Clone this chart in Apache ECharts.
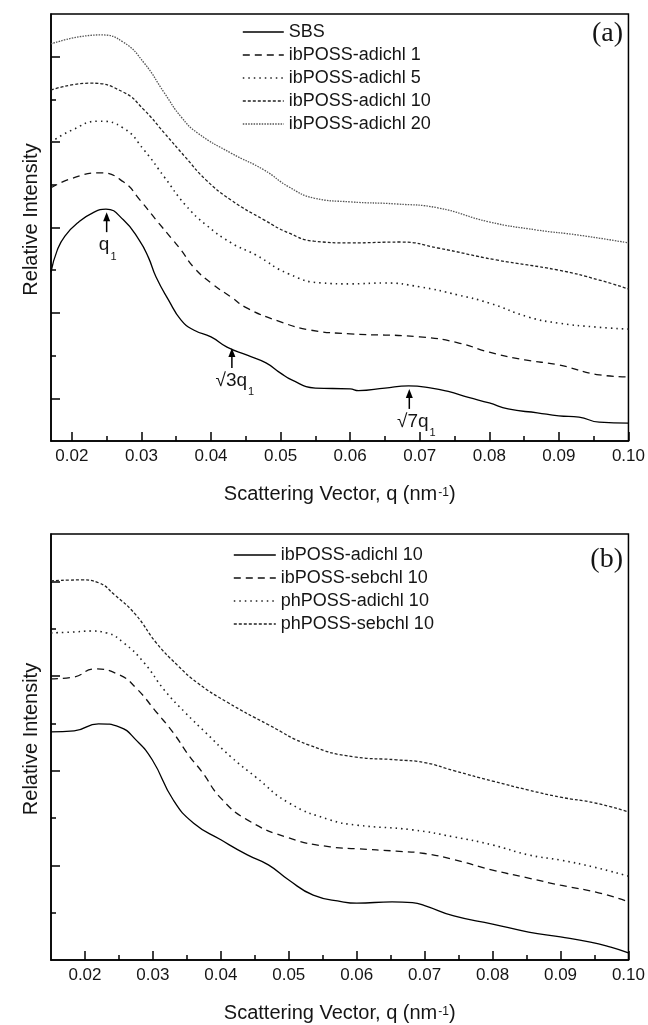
<!DOCTYPE html>
<html><head><meta charset="utf-8">
<script src="https://cdn.jsdelivr.net/npm/echarts@6/dist/echarts.min.js"></script>
<style>html,body{margin:0;padding:0;background:#fff}#c{width:648px;height:1025px}</style>
</head><body><div id="c"></div><script>
// ---------- data (relative intensity, arbitrary units) ----------
const xMajor = [0.02,0.03,0.04,0.05,0.06,0.07,0.08,0.09,0.10];
const xMinor = [0.025,0.035,0.045,0.055,0.065,0.075,0.085,0.095];
const yMajorA = [1,3,5,7,9];
const yMinorA = [2,4,6,8];
const yMajorB = [2,4,6,8];
const yMinorB = [1,3,5,7];

const namesA = ['SBS','ibPOSS-adichl 1','ibPOSS-adichl 5','ibPOSS-adichl 10','ibPOSS-adichl 20'];
const namesB = ['ibPOSS-adichl 10','ibPOSS-sebchl 10','phPOSS-adichl 10','phPOSS-sebchl 10'];

const sbsA = [[0.0170,3.96],[0.0179,4.47],[0.0190,4.80],[0.0210,5.13],[0.0232,5.36],[0.0249,5.43],[0.0274,5.18],[0.0297,4.70],[0.0310,4.30],[0.0321,3.84],[0.0339,3.30],[0.0357,2.83],[0.0375,2.60],[0.0400,2.44],[0.0423,2.20],[0.0452,2.01],[0.0479,1.83],[0.0500,1.59],[0.0516,1.43],[0.0550,1.24],[0.0600,1.22],[0.0612,1.18],[0.0650,1.24],[0.0684,1.29],[0.0717,1.24],[0.0741,1.16],[0.0770,1.02],[0.0800,0.89],[0.0827,0.75],[0.0869,0.66],[0.0900,0.59],[0.0929,0.56],[0.0958,0.44],[0.1000,0.42]];
const adi1A = [[0.0170,5.93],[0.0200,6.15],[0.0241,6.28],[0.0274,6.07],[0.0298,5.64],[0.0321,5.18],[0.0345,4.71],[0.0357,4.47],[0.0375,4.07],[0.0400,3.70],[0.0429,3.37],[0.0452,3.11],[0.0500,2.79],[0.0542,2.60],[0.0600,2.51],[0.0700,2.44],[0.0755,2.30],[0.0800,2.08],[0.0851,1.90],[0.0900,1.78],[0.0958,1.55],[0.1000,1.50]];
const adi5A = [[0.0170,7.00],[0.0200,7.28],[0.0238,7.49],[0.0274,7.33],[0.0304,6.81],[0.0333,6.18],[0.0363,5.53],[0.0393,5.06],[0.0429,4.64],[0.0464,4.36],[0.0512,3.91],[0.0560,3.70],[0.0600,3.68],[0.0649,3.70],[0.0700,3.61],[0.0755,3.42],[0.0800,3.23],[0.0857,2.90],[0.0900,2.76],[0.0952,2.67],[0.1000,2.62]];
const adi10A = [[0.0170,8.22],[0.0226,8.38],[0.0274,8.17],[0.0304,7.75],[0.0333,7.21],[0.0363,6.65],[0.0393,6.11],[0.0429,5.64],[0.0476,5.18],[0.0512,4.87],[0.0548,4.68],[0.0600,4.64],[0.0673,4.66],[0.0726,4.52],[0.0810,4.24],[0.0900,4.00],[0.0958,3.77],[0.1000,3.56]];
const adi20A = [[0.0170,9.30],[0.0241,9.51],[0.0274,9.34],[0.0304,8.85],[0.0333,8.15],[0.0357,7.59],[0.0381,7.21],[0.0429,6.74],[0.0476,6.35],[0.0512,5.95],[0.0548,5.69],[0.0600,5.60],[0.0667,5.55],[0.0726,5.46],[0.0800,5.13],[0.0869,4.94],[0.0929,4.82],[0.1000,4.64]];

const adi10B = [[0.0150,4.82],[0.0184,4.84],[0.0220,4.99],[0.0251,4.92],[0.0275,4.65],[0.0299,4.23],[0.0330,3.38],[0.0360,2.89],[0.0400,2.54],[0.0439,2.22],[0.0470,2.01],[0.0500,1.69],[0.0536,1.37],[0.0579,1.23],[0.0600,1.20],[0.0652,1.23],[0.0682,1.21],[0.0700,1.15],[0.0743,0.93],[0.0800,0.76],[0.0853,0.59],[0.0900,0.49],[0.0944,0.38],[0.0974,0.27],[0.1000,0.15]];
const seb10B = [[0.0150,5.94],[0.0184,5.98],[0.0214,6.15],[0.0251,6.02],[0.0275,5.75],[0.0305,5.24],[0.0330,4.80],[0.0354,4.30],[0.0372,3.98],[0.0400,3.42],[0.0439,2.96],[0.0500,2.58],[0.0561,2.39],[0.0600,2.35],[0.0658,2.30],[0.0700,2.25],[0.0743,2.12],[0.0800,1.90],[0.0853,1.73],[0.0900,1.58],[0.0956,1.42],[0.1000,1.23]];
const phAdiB = [[0.0150,6.91],[0.0184,6.93],[0.0208,6.95],[0.0232,6.91],[0.0257,6.70],[0.0287,6.28],[0.0317,5.70],[0.0348,5.22],[0.0378,4.80],[0.0415,4.29],[0.0451,3.87],[0.0500,3.32],[0.0561,2.96],[0.0600,2.85],[0.0682,2.75],[0.0743,2.60],[0.0800,2.43],[0.0853,2.22],[0.0900,2.11],[0.0950,1.96],[0.1000,1.77]];
const phSebB = [[0.0150,8.01],[0.0196,8.03],[0.0220,7.97],[0.0244,7.71],[0.0275,7.29],[0.0305,6.70],[0.0336,6.23],[0.0366,5.85],[0.0409,5.45],[0.0470,4.97],[0.0530,4.54],[0.0597,4.29],[0.0658,4.23],[0.0700,4.17],[0.0743,4.00],[0.0800,3.78],[0.0853,3.59],[0.0900,3.44],[0.0950,3.32],[0.1000,3.13]];

// annotations on SBS curve (panel a)
const annQ = [0.0250, 0.0430, 0.0685];
const annI = [5.43, 2.25, 1.29];
const annText = ['q', '√3q', '√7q'];
const annSub = ['1', '1', '1'];

// ---------- styles ----------
const FONT = '"Liberation Sans", Arial, Helvetica, sans-serif';
const INK = '#151515';
const styleA = [
  {color:'#000', width:1.3, type:'solid'},
  {color:'#111', width:1.3, type:[7,5]},
  {color:'#222', width:1.6, type:[1.5,4]},
  {color:'#222', width:1.3, type:[3,2]},
  {color:'#555', width:1.3, type:[1.5,1.2]}
];
const styleB = [
  {color:'#000', width:1.3, type:'solid'},
  {color:'#111', width:1.3, type:[7,5]},
  {color:'#222', width:1.6, type:[1.5,4]},
  {color:'#222', width:1.3, type:[3,2]}
];

const chart = echarts.init(document.getElementById('c'), null, {renderer:'canvas'});

function xAxesFor(gi, min) {
  const common = {type:'value', gridIndex:gi, min:min, max:0.1, position:'bottom', splitLine:{show:false}};
  return [
    Object.assign({}, common, {
      axisLine:{show:true, onZero:false, lineStyle:{color:'#000', width:1.5}},
      axisTick:{show:true, inside:true, length:9, customValues:xMajor, lineStyle:{color:'#000', width:1.5}},
      axisLabel:{show:true, customValues:xMajor, formatter:v=>v.toFixed(2), fontSize:17, color:INK, margin:7, fontFamily:FONT},
      name:'{t|Scattering Vector, q (nm}{s|-1}{t|)}', nameLocation:'middle', nameGap:43,
      nameTextStyle:{rich:{t:{fontSize:20, color:INK, fontFamily:FONT, lineHeight:24, verticalAlign:'top'},
                           s:{fontSize:12, color:INK, fontFamily:FONT, lineHeight:12, verticalAlign:'top', padding:[3,0,0,1]}}}
    }),
    Object.assign({}, common, {
      axisLine:{show:false, onZero:false}, axisLabel:{show:false},
      axisTick:{show:true, inside:true, length:5, customValues:xMinor, lineStyle:{color:'#000', width:1.5}}
    })
  ];
}
function yAxesFor(gi, max, majors, minors) {
  const common = {type:'value', gridIndex:gi, min:0, max:max, position:'left', splitLine:{show:false}, axisLabel:{show:false}};
  return [
    Object.assign({}, common, {
      axisLine:{show:true, onZero:false, lineStyle:{color:'#000', width:1.5}},
      axisTick:{show:true, inside:true, length:9, customValues:majors, lineStyle:{color:'#000', width:1.5}},
      name:'Relative Intensity', nameLocation:'middle', nameGap:10,
      nameTextStyle:{fontSize:20, color:INK, fontFamily:FONT, padding:[0,0,0,16]}
    }),
    Object.assign({}, common, {
      axisLine:{show:false, onZero:false},
      axisTick:{show:true, inside:true, length:5, customValues:minors, lineStyle:{color:'#000', width:1.5}}
    })
  ];
}

const dataA = [sbsA, adi1A, adi5A, adi10A, adi20A];
const dataB = [adi10B, seb10B, phAdiB, phSebB];
const series = [];
dataA.forEach((d,i)=>series.push({type:'line', name:namesA[i], xAxisIndex:0, yAxisIndex:0, data:d, symbol:'none', smooth:0.5,
  lineStyle:styleA[i], itemStyle:{color:styleA[i].color}, z:3}));
dataB.forEach((d,i)=>series.push({type:'line', name:namesB[i], xAxisIndex:2, yAxisIndex:2, data:d, symbol:'none', smooth:0.5,
  lineStyle:styleB[i], itemStyle:{color:styleB[i].color}, z:3}));

const legendCommon = {orient:'vertical', itemWidth:41, itemHeight:14, itemGap:3, selectedMode:false,
  itemStyle:{opacity:0, borderWidth:0},
  textStyle:{fontSize:18, color:INK, fontFamily:FONT, lineHeight:20}};

function legendItems(names, styles) {
  return names.map((n,i)=>({name:n, itemStyle:{opacity:0, borderWidth:0},
    lineStyle:{color:styles[i].color, width:styles[i].width, type:styles[i].type, opacity:1}}));
}

chart.setOption({
  animation:false,
  backgroundColor:'#fff',
  grid:[
    {left:51, top:14, width:580, height:427, show:true, borderColor:'#000', borderWidth:1.5, backgroundColor:'transparent'},
    {left:51, top:534, width:580, height:426, show:true, borderColor:'#000', borderWidth:1.5, backgroundColor:'transparent'}
  ],
  xAxis:[...xAxesFor(0, 0.017), ...xAxesFor(1, 0.015)],
  yAxis:[...yAxesFor(0, 10, yMajorA, yMinorA), ...yAxesFor(1, 9, yMajorB, yMinorB)],
  legend:[
    Object.assign({}, legendCommon, {left:237, top:17, data:legendItems(namesA, styleA)}),
    Object.assign({}, legendCommon, {left:228, top:540, itemWidth:42, data:legendItems(namesB, styleB)})
  ],
  series:series
});

// ---------- annotations & panel letters ----------
const graphics = [];
const dx = [1, 3, 7];
annQ.forEach((q,i)=>{
  const p = chart.convertToPixel({xAxisIndex:0, yAxisIndex:0}, [q, annI[i]]);
  const x = p[0], tip = p[1] + 3;
  graphics.push({type:'polygon', shape:{points:[[x,tip],[x-3.5,tip+9],[x+3.5,tip+9]]}, style:{fill:'#000'}, z:10});
  graphics.push({type:'line', shape:{x1:x, y1:tip+6, x2:x, y2:tip+20}, style:{stroke:'#000', lineWidth:1.5}, z:10});
  graphics.push({type:'text', z:10, style:{text:'{m|'+annText[i]+'}{s|'+annSub[i]+'}', x:x+dx[i], y:tip+23, align:'center', verticalAlign:'top',
    rich:{m:{fontSize:19, lineHeight:22, fontFamily:FONT, fill:INK, verticalAlign:'top'},
          s:{fontSize:11, lineHeight:11, fontFamily:FONT, fill:INK, verticalAlign:'top', padding:[16,0,0,1]}}}});
});
graphics.push({type:'text', z:10, style:{text:'(a)', x:623, y:34, align:'right', verticalAlign:'middle', fontSize:28, fontFamily:'"Liberation Serif", "Times New Roman", serif', fill:INK}});
graphics.push({type:'text', z:10, style:{text:'(b)', x:623, y:560, align:'right', verticalAlign:'middle', fontSize:28, fontFamily:'"Liberation Serif", "Times New Roman", serif', fill:INK}});
chart.setOption({graphic:graphics});
</script></body></html>
